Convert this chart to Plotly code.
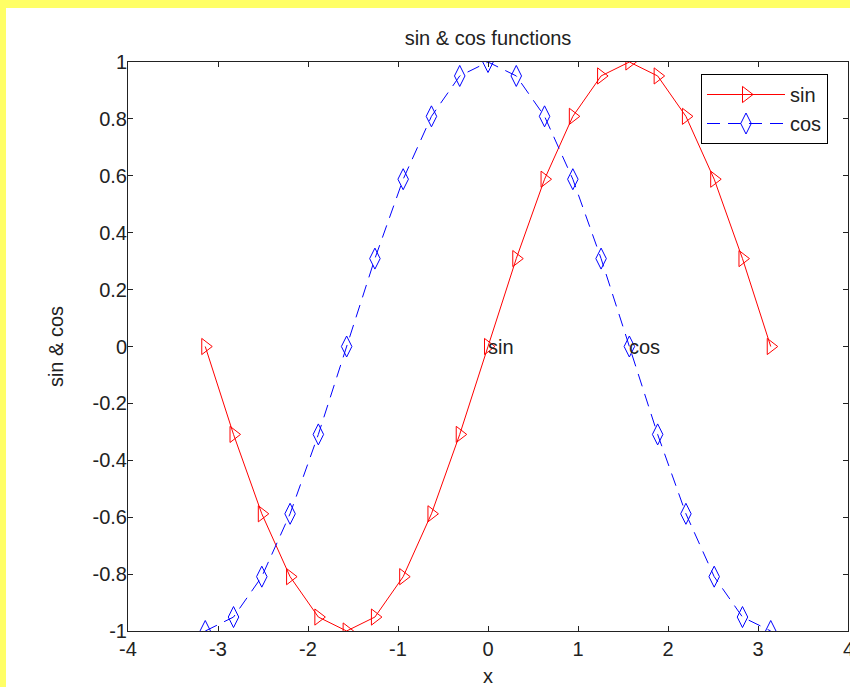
import plotly.graph_objects as go

# samples (x from -pi to pi, 21 points)
x = [-3.1416, -2.8274, -2.5133, -2.1991, -1.8850, -1.5708, -1.2566, -0.9425, -0.6283, -0.3142,
     0.0, 0.3142, 0.6283, 0.9425, 1.2566, 1.5708, 1.8850, 2.1991, 2.5133, 2.8274, 3.1416]
sin_y = [0.0, -0.309, -0.588, -0.809, -0.951, -1.0, -0.951, -0.809, -0.588, -0.309,
         0.0, 0.309, 0.588, 0.809, 0.951, 1.0, 0.951, 0.809, 0.588, 0.309, 0.0]
cos_y = [-1.0, -0.951, -0.809, -0.588, -0.309, 0.0, 0.309, 0.588, 0.809, 0.951,
         1.0, 0.951, 0.809, 0.588, 0.309, 0.0, -0.309, -0.588, -0.809, -0.951, -1.0]
labels = [("sin", 0.0, 0.0), ("cos", 1.5708, 0.0)]

xticks = [-4, -3, -2, -1, 0, 1, 2, 3, 4]
xticktext = ["-4", "-3", "-2", "-1", "0", "1", "2", "3", "4"]
yticks = [-1, -0.8, -0.6, -0.4, -0.2, 0, 0.2, 0.4, 0.6, 0.8, 1]
yticktext = ["-1", "-0.8", "-0.6", "-0.4", "-0.2", "0", "0.2", "0.4", "0.6", "0.8", "1"]

W, H = 850, 687
L, R, T, B = 128, 2, 62, 56
pw, ph = W - L - R, H - T - B
font = dict(family="Liberation Sans, Arial, sans-serif", size=20, color="#222")

fig = go.Figure()
fig.add_trace(go.Scatter(x=x, y=sin_y, name="sin", mode="lines+markers",
                         line=dict(color="red", width=1),
                         marker=dict(symbol="triangle-right-open", size=14, color="red",
                                     line=dict(width=1))))
fig.add_trace(go.Scatter(x=x, y=cos_y, name="cos", mode="lines+markers",
                         line=dict(color="blue", width=1, dash="13px,8px"),
                         marker=dict(symbol="diamond-tall-open", size=15, color="blue",
                                     line=dict(width=1))))

for txt, tx, ty in labels:
    fig.add_annotation(x=tx, y=ty, text=txt, showarrow=False, xanchor="left",
                       yanchor="middle", font=font, xshift=-2)

# last x tick label sits on the page edge, plotly drops it, so put it back
fig.add_annotation(x=xticks[-1], y=0, yref="paper", text=xticktext[-1], showarrow=False,
                   xanchor="center", yanchor="middle", yshift=-18, font=font)

# yellow frame on top and left edges
fig.add_shape(type="rect", xref="paper", yref="paper", layer="above",
              x0=-L / pw, x1=(W - L) / pw, y0=1 + (T - 8) / ph, y1=1 + T / ph,
              fillcolor="#ffff66", line_width=0)
fig.add_shape(type="rect", xref="paper", yref="paper", layer="above",
              x0=-L / pw, x1=-(L - 6) / pw, y0=-B / ph, y1=1 + T / ph,
              fillcolor="#ffff66", line_width=0)

axis = dict(showgrid=False, zeroline=False, showline=True, linecolor="#222", linewidth=1,
            mirror="ticks", ticks="inside", ticklen=5, tickcolor="#222", tickfont=font,
            automargin=False, tickmode="array")
fig.update_xaxes(axis, range=[-4, 4], tickvals=xticks, ticktext=xticktext,
                 title=dict(text="x", font=font, standoff=13))
fig.update_yaxes(axis, range=[-1, 1], tickvals=yticks, ticktext=yticktext,
                 ticklabelstandoff=-4,
                 title=dict(text="sin & cos", font=font, standoff=23))

fig.update_layout(
    width=W, height=H, margin=dict(l=L, r=R, t=T, b=B, autoexpand=False),
    paper_bgcolor="white", plot_bgcolor="white", font=font,
    title=dict(text="sin & cos functions", x=(L + pw / 2) / W, xanchor="center",
               y=1 - 38 / H, yanchor="middle", font=font),
    legend=dict(x=(701 - L) / pw, y=1 - (74 - T) / ph, xanchor="left", yanchor="top",
                bordercolor="black", borderwidth=1, bgcolor="white",
                font=font, tracegroupgap=0, itemwidth=78),
)

fig.write_html("out.html", config={"displayModeBar": False},
               post_script="document.body.style.margin='0';")
